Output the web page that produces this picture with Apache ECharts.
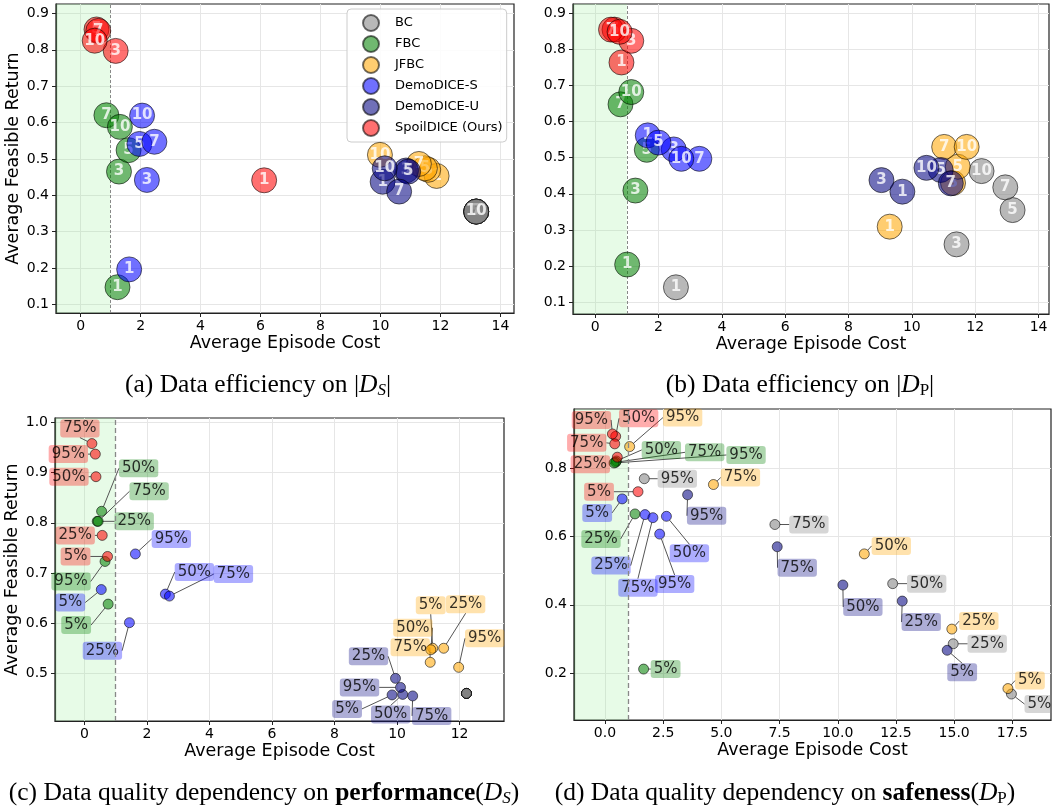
<!DOCTYPE html>
<html><head><meta charset="utf-8">
<script src="https://cdn.jsdelivr.net/npm/echarts@6/dist/echarts.min.js"></script>
<style>html,body{margin:0;padding:0;background:#fff}#c{width:1052px;height:808px}</style>
</head><body><div id="c"></div>
<script>
// ---------- categories / labels ----------
const methods = ['BC', 'FBC', 'JFBC', 'DemoDICE-S', 'DemoDICE-U', 'SpoilDICE (Ours)'];
const sizeLabels = ['1', '3', '5', '7', '10'];
const qualityLabels = ['5%', '25%', '50%', '75%', '95%'];

// ---------- tick values ----------
const xTicksAB = [0, 2, 4, 6, 8, 10, 12, 14];
const yTicksAB = [0.1, 0.2, 0.3, 0.4, 0.5, 0.6, 0.7, 0.8, 0.9];
const xTicksC = [0, 2, 4, 6, 8, 10, 12];
const yTicksC = [0.5, 0.6, 0.7, 0.8, 0.9, 1.0];
const xTicksD = [0, 2.5, 5, 7.5, 10, 12.5, 15, 17.5];
const yTicksD = [0.2, 0.4, 0.6, 0.8];

// ---------- (a) data efficiency on |D_S| : [cost, return] for sizes 1,3,5,7,10 ----------
const a_BC    = [[13.19, 0.355], [13.19, 0.355], [13.19, 0.355], [13.19, 0.355], [13.19, 0.355]];
const a_FBC   = [[1.23, 0.147], [1.28, 0.465], [1.60, 0.524], [0.86, 0.620], [1.31, 0.588]];
const a_JFBC  = [[11.87, 0.453], [11.59, 0.470], [11.48, 0.474], [11.28, 0.486], [9.98, 0.511]];
const a_DDS   = [[1.62, 0.196], [2.21, 0.442], [1.96, 0.541], [2.46, 0.547], [2.05, 0.619]];
const a_DDU   = [[10.07, 0.437], [10.85, 0.468], [10.92, 0.465], [10.62, 0.410], [10.14, 0.474]];
const a_Spoil = [[6.12, 0.441], [1.17, 0.797], [0.53, 0.856], [0.59, 0.852], [0.47, 0.825]];

// ---------- (b) data efficiency on |D_P| ----------
const b_BC    = [[2.55, 0.141], [11.41, 0.260], [13.18, 0.355], [12.95, 0.418], [12.20, 0.463]];
const b_FBC   = [[1.01, 0.204], [1.27, 0.409], [1.63, 0.522], [0.80, 0.648], [1.14, 0.682]];
const b_JFBC  = [[9.30, 0.309], [11.30, 0.430], [11.45, 0.475], [11.02, 0.530], [11.73, 0.530]];
const b_DDS   = [[1.66, 0.562], [2.48, 0.523], [2.00, 0.542], [3.29, 0.497], [2.72, 0.497]];
const b_DDU   = [[9.70, 0.406], [9.04, 0.438], [10.91, 0.466], [11.23, 0.429], [10.46, 0.472]];
const b_Spoil = [[0.83, 0.764], [1.14, 0.824], [0.61, 0.855], [0.50, 0.855], [0.77, 0.849]];

// ---------- (c) data quality on performance (D_S): quality 5,25,50,75,95% ----------
const c_BC    = [[12.22, 0.460], [12.22, 0.460], [12.22, 0.460], [12.22, 0.460], [12.22, 0.460]];
const c_FBC   = [[0.76, 0.638], [0.41, 0.803], [0.55, 0.823], [0.44, 0.803], [0.66, 0.723]];
const c_JFBC  = [[11.14, 0.550], [11.49, 0.550], [11.08, 0.547], [11.06, 0.522], [11.97, 0.512]];
const c_DDS   = [[0.54, 0.667], [1.44, 0.601], [2.59, 0.658], [2.72, 0.654], [1.63, 0.738]];
const c_DDU   = [[9.84, 0.457], [9.95, 0.490], [10.18, 0.458], [10.50, 0.455], [10.11, 0.472]];
const c_Spoil = [[0.74, 0.733], [0.57, 0.775], [0.37, 0.892], [0.24, 0.958], [0.35, 0.937]];

// ---------- (d) data quality on safeness (D_P) ----------
const d_BC    = [[17.46, 0.139], [14.96, 0.286], [12.36, 0.462], [7.30, 0.635], [1.69, 0.769]];
const d_FBC   = [[1.66, 0.212], [1.29, 0.666], [0.49, 0.821], [0.46, 0.817], [0.39, 0.815]];
const d_JFBC  = [[17.31, 0.155], [14.90, 0.329], [11.14, 0.549], [4.66, 0.752], [1.06, 0.863]];
const d_DDS   = [[0.74, 0.710], [1.72, 0.664], [2.64, 0.659], [2.06, 0.655], [2.35, 0.607]];
const d_DDU   = [[14.70, 0.267], [12.77, 0.411], [10.22, 0.458], [7.40, 0.570], [3.55, 0.722]];
const d_Spoil = [[1.42, 0.731], [0.53, 0.832], [0.46, 0.893], [0.42, 0.871], [0.32, 0.900]];

// ---------- annotation label offsets (px) for (c) and (d) ----------
const cOffsets = [
  [[0, 0], [0, 0], [0, 0], [0, 0], [0, 0]],
  [[-32, 21], [37, 0], [37, -43], [51, -30], [-34, 20]],
  [[-2, -43], [22, -44], [-18, -22], [-20, -15], [26, -29]],
  [[-31, 13], [-27, 28], [29, -22], [64, -22], [36, -15]],
  [[-45, 14], [-27, -22], [-12, 20], [19, 20], [-41, 0]],
  [[-32, 0], [-27, 0], [-27, 0], [-12, -15], [-27, 0]]
];
const dOffsets = [
  [[28, 10], [34, 0], [34, 0], [34, 0], [33, 0]],
  [[22, 0], [-34, 25], [45, -11], [89, -10], [132, -8]],
  [[22, -8], [27, -8], [27, -8], [27, -7], [53, -29]],
  [[-25, 14], [-34, 51], [23, 37], [-15, 70], [15, 50]],
  [[15, 22], [19, 21], [20, 22], [20, 21], [19, 21]],
  [[-39, 0], [-27, 7], [23, -18], [-28, -1], [-21, -14]]
];

// ---------- styling ----------
const methodRGB = ['128,128,128', '0,128,0', '255,165,0', '0,0,255', '0,0,128', '255,0,0'];
const FONT = 'DejaVu Sans';

const panels = [
  { kind: 'size', pts: [a_BC, a_FBC, a_JFBC, a_DDS, a_DDU, a_Spoil],
    grid: { left: 56, top: 4, width: 458, height: 309 },
    x: [-0.82, 14.45], y: [0.076, 0.926], xt: xTicksAB, yt: yTicksAB, xf: v => String(v), yname: true },
  { kind: 'size', pts: [b_BC, b_FBC, b_JFBC, b_DDS, b_DDU, b_Spoil],
    grid: { left: 573, top: 4, width: 476, height: 310 },
    x: [-0.70, 14.33], y: [0.067, 0.926], xt: xTicksAB, yt: yTicksAB, xf: v => String(v), yname: false },
  { kind: 'quality', pts: [c_BC, c_FBC, c_JFBC, c_DDS, c_DDU, c_Spoil], off: cOffsets,
    grid: { left: 55, top: 418, width: 449, height: 303 },
    x: [-0.94, 13.42], y: [0.405, 1.009], xt: xTicksC, yt: yTicksC, xf: v => String(v), yname: true },
  { kind: 'quality', pts: [d_BC, d_FBC, d_JFBC, d_DDS, d_DDU, d_Spoil], off: dOffsets,
    grid: { left: 574, top: 409, width: 477, height: 311 },
    x: [-1.33, 19.16], y: [0.063, 0.973], xt: xTicksD, yt: yTicksD, xf: v => v.toFixed(1), yname: false }
];

const grids = [], xAxes = [], yAxes = [], series = [];
panels.forEach((pan, p) => {
  grids.push(Object.assign({ show: true, borderColor: '#222', borderWidth: 1.2, backgroundColor: 'transparent', containLabel: false, outerBoundsMode: 'none' }, pan.grid));
  const axisCommon = {
    axisLine: { show: true, onZero: false, lineStyle: { color: '#222', width: 1.2 } },
    splitLine: { show: true, lineStyle: { color: '#e6e6e6', width: 1 } },
  };
  xAxes.push(Object.assign({
    gridIndex: p, type: 'value', min: pan.x[0], max: pan.x[1],
    name: 'Average Episode Cost', nameLocation: 'middle', nameGap: 21,
    nameTextStyle: { fontSize: 17.5, color: '#000', fontFamily: FONT },
    axisTick: { show: true, length: 4, customValues: pan.xt, lineStyle: { color: '#222' } },
    axisLabel: { customValues: pan.xt, formatter: pan.xf, fontSize: 14, color: '#000', margin: 6, fontFamily: FONT }
  }, axisCommon));
  yAxes.push(Object.assign({
    gridIndex: p, type: 'value', min: pan.y[0], max: pan.y[1],
    name: pan.yname ? 'Average Feasible Return' : '', nameLocation: 'middle', nameGap: 32,
    nameTextStyle: { fontSize: 17.5, color: '#000', fontFamily: FONT },
    axisTick: { show: true, length: 4, customValues: pan.yt, lineStyle: { color: '#222' } },
    axisLabel: { customValues: pan.yt, formatter: v => v.toFixed(1), fontSize: 14, color: '#000', margin: 7, fontFamily: FONT }
  }, axisCommon));

  pan.pts.forEach((pts, m) => {
    const isSize = pan.kind === 'size';
    const itemStyle = { color: 'rgba(' + methodRGB[m] + ',0.7)', borderColor: 'rgba(0,0,0,0.7)', borderWidth: 1 };
    const made = [];
    if (isSize) {
      // one layer per point so that later circles cover earlier numbers (as in the original)
      pts.forEach((v, i) => {
        made.push({
          type: 'scatter', name: methods[m], xAxisIndex: p, yAxisIndex: p,
          z: 2 + m * 5 + i, symbolSize: 25, clip: false, silent: true, emphasis: { disabled: true },
          data: [[v[0], v[1]]], itemStyle,
          label: { show: true, position: 'inside', formatter: () => sizeLabels[i],
            color: '#fff', fontWeight: 'bold', fontSize: 15, fontFamily: FONT }
        });
      });
    } else {
      const offs = pan.off[m];
      made.push({
        type: 'scatter', name: methods[m], xAxisIndex: p, yAxisIndex: p,
        z: 2, symbolSize: 10, clip: false, silent: true, emphasis: { disabled: true },
        data: pts.map(v => [v[0], v[1]]), itemStyle,
        label: { show: !(p === 2 && m === 0), position: 'inside', formatter: prm => qualityLabels[prm.dataIndex],
          color: '#000', fontSize: 15, fontFamily: FONT, backgroundColor: 'rgba(' + methodRGB[m] + ',0.4)',
          padding: [2, 3, 1, 3], borderRadius: 3 },
        labelLine: { show: true, lineStyle: { color: '#555', width: 1 } },
        labelLayout: prm => ({ dx: offs[prm.dataIndex][0], dy: offs[prm.dataIndex][1], hideOverlap: false })
      });
    }
    if (m === 0) {
      made[0].markArea = { silent: true, itemStyle: { color: 'rgba(144,238,144,0.22)' },
        data: [[{ xAxis: pan.x[0] }, { xAxis: 1 }]] };
      made[0].markLine = { silent: true, symbol: 'none', label: { show: false },
        lineStyle: { color: '#888', type: isSize ? [3, 2] : [5, 3], width: isSize ? 1 : 1.3 },
        data: [{ xAxis: 1 }] };
    }
    made.forEach(s => series.push(s));
  });
});

const capBase = { fontFamily: 'Liberation Serif', fontSize: 25.5, color: '#000', fontWeight: 'normal' };
const capRich = {
  cal: { fontFamily: 'Liberation Serif', fontStyle: 'italic', fontSize: 25.5, color: '#000' },
  subi: { fontFamily: 'Liberation Serif', fontStyle: 'italic', fontSize: 17, color: '#000', padding: [11, 0, 0, 0] },
  subr: { fontFamily: 'Liberation Serif', fontSize: 17, color: '#000', padding: [11, 0, 0, 0] },
  b: { fontFamily: 'Liberation Serif', fontWeight: 'bold', fontSize: 25.5, color: '#000' }
};
const mkTitle = (text, cx, top) => ({ text, left: cx, top, textAlign: 'center', padding: 0,
  textStyle: Object.assign({ rich: capRich }, capBase) });

const chart = echarts.init(document.getElementById('c'), null, { renderer: 'canvas' });
chart.setOption({
  animation: false,
  backgroundColor: '#fff',
  title: [
    mkTitle('(a) Data efficiency on |{cal|D}{subi|S}|', 258, 371),
    mkTitle('(b) Data efficiency on |{cal|D}{subr|P}|', 800, 371),
    mkTitle('(c) Data quality dependency on {b|performance}({cal|D}{subi|S})', 264, 779),
    mkTitle('(d) Data quality dependency on {b|safeness}({cal|D}{subr|P})', 785, 779)
  ],
  legend: {
    orient: 'vertical', left: 347, top: 9, padding: [5, 4, 5, 15],
    itemWidth: 38, itemHeight: 16, itemGap: 3, icon: 'circle', selectedMode: false,
    textStyle: { fontSize: 13, fontFamily: FONT, color: '#000' },
    backgroundColor: 'rgba(255,255,255,0.85)', borderColor: '#ccc', borderWidth: 1, borderRadius: 4,
    data: methods
  },
  grid: grids, xAxis: xAxes, yAxis: yAxes, series
});
</script></body></html>
